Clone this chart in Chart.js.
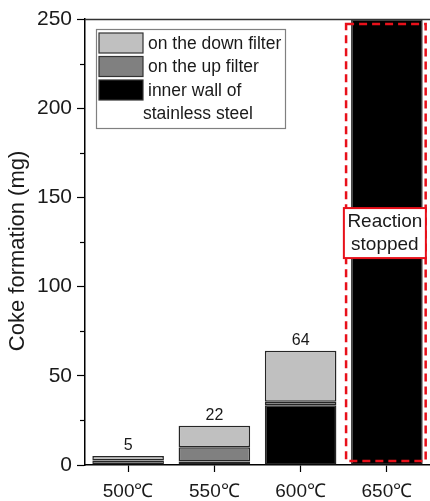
<!DOCTYPE html>
<html>
<head>
<meta charset="utf-8">
<script src="https://cdn.jsdelivr.net/npm/chart.js@4.4.1/dist/chart.umd.min.js"></script>
<style>
  html, body { margin: 0; padding: 0; background: #fff; }
  #wrap { width: 430px; height: 501px; }
</style>
</head>
<body>
<div id="wrap"><canvas id="c" width="430" height="501"></canvas></div>
<script>
// ---- data ----
const categories = ['500℃', '550℃', '600℃', '650℃'];
const innerWall = [0.3, 2, 33.5, 250];
const upFilter = [2.2, 8, 2, 0];
const downFilter = [2.5, 12, 28.5, 0];
const totalLabels = ['5', '22', '64', ''];
const seriesNames = ['on the down filter', 'on the up filter', 'inner wall of\nstainless steel'];
const yTicks = [0, 50, 100, 150, 200, 250];
const yTitle = 'Coke formation (mg)';
const boxText = ['Reaction', 'stopped'];
const stoppedIndex = 3;

const FONT = "'Liberation Sans', Arial, sans-serif";
const TXT = '#1a1a1a';

const overlay = {
  id: 'overlay',
  afterDatasetsDraw(chart) {
    const ctx = chart.ctx;
    const xs = chart.scales.x, ys = chart.scales.y;
    const ca = chart.chartArea;
    ctx.save();
    // top frame line
    ctx.strokeStyle = '#333';
    ctx.lineWidth = 1.5;
    ctx.beginPath();
    ctx.moveTo(ca.left, ca.top + 0.5);
    ctx.lineTo(chart.width, ca.top + 0.5);
    ctx.stroke();
    // minor ticks on y
    ctx.strokeStyle = '#000';
    ctx.lineWidth = 1.2;
    for (let v = 25; v < 250; v += 50) {
      const py = Math.round(ys.getPixelForValue(v)) + 0.5;
      ctx.beginPath();
      ctx.moveTo(ca.left - 5, py);
      ctx.lineTo(ca.left, py);
      ctx.stroke();
    }
    // y title
    ctx.save();
    ctx.translate(18, ys.getPixelForValue(120));
    ctx.rotate(-Math.PI / 2);
    ctx.fillStyle = TXT;
    ctx.font = '22px ' + FONT;
    ctx.textAlign = 'center';
    ctx.textBaseline = 'middle';
    ctx.fillText(yTitle, 0, 0);
    ctx.restore();
    // value labels
    ctx.fillStyle = TXT;
    ctx.font = '16px ' + FONT;
    ctx.textAlign = 'center';
    ctx.textBaseline = 'middle';
    categories.forEach((c, i) => {
      if (!totalLabels[i]) return;
      const tot = innerWall[i] + upFilter[i] + downFilter[i];
      ctx.fillText(totalLabels[i], xs.getPixelForValue(i), ys.getPixelForValue(tot) - 10);
    });
    // red dashed rectangle around stopped bar
    const meta = chart.getDatasetMeta(0);
    const bar = meta.data[stoppedIndex];
    const half = bar.width / 2;
    const cx = bar.x;
    const l = cx - half - 5, r = cx + half + 3;
    const t = ys.getPixelForValue(247.2), b = ys.getPixelForValue(2.2);
    ctx.strokeStyle = '#e8101a';
    ctx.lineWidth = 2.5;
    ctx.setLineDash([8, 5]);
    ctx.strokeRect(l, t, r - l, b - t);
    ctx.setLineDash([]);
    // reaction stopped box
    const by = ys.getPixelForValue(130);
    const bw = 82, bh = 50;
    const bx = cx - 2 - bw / 2;
    ctx.fillStyle = '#fff';
    ctx.fillRect(bx, by - bh / 2, bw, bh);
    ctx.strokeStyle = '#e8101a';
    ctx.lineWidth = 2;
    ctx.strokeRect(bx, by - bh / 2, bw, bh);
    ctx.fillStyle = TXT;
    ctx.font = '19px ' + FONT;
    ctx.fillText(boxText[0], bx + bw / 2, by - 11);
    ctx.fillText(boxText[1], bx + bw / 2, by + 12);
    // legend
    const lx = ca.left + 11, ly = ca.top + 10;
    ctx.fillStyle = '#fff';
    ctx.fillRect(lx, ly, 189, 99);
    ctx.strokeStyle = '#808080';
    ctx.lineWidth = 1.2;
    ctx.strokeRect(lx + 0.5, ly + 0.5, 189, 99);
    const order = [2, 1, 0];
    ctx.font = '17.5px ' + FONT;
    ctx.textAlign = 'left';
    let rowY = ly + 4;
    order.forEach((di, k) => {
      const ds = chart.data.datasets[di];
      ctx.fillStyle = ds.backgroundColor;
      ctx.fillRect(lx + 3, rowY, 44, 20);
      ctx.strokeStyle = '#333';
      ctx.lineWidth = 1.2;
      ctx.strokeRect(lx + 3, rowY, 44, 20);
      ctx.fillStyle = TXT;
      const lines = ds.label.split('\n');
      ctx.fillText(lines[0], lx + 52, rowY + 11);
      if (lines[1]) ctx.fillText(lines[1], lx + 47, rowY + 34);
      rowY += 23.5;
    });
    ctx.restore();
  }
};

new Chart(document.getElementById('c'), {
  type: 'bar',
  data: {
    labels: categories,
    datasets: [
      { label: seriesNames[2], data: innerWall, backgroundColor: '#000000' },
      { label: seriesNames[1], data: upFilter, backgroundColor: '#808080' },
      { label: seriesNames[0], data: downFilter, backgroundColor: '#c0c0c0' }
    ]
  },
  options: {
    responsive: false,
    animation: false,
    devicePixelRatio: 1,
    layout: { padding: { top: 19, right: 0, left: 0, bottom: 0 } },
    datasets: {
      bar: {
        borderColor: '#262626',
        borderWidth: 1.5,
        borderSkipped: false,
        barPercentage: 0.83,
        categoryPercentage: 1
      }
    },
    plugins: { legend: { display: false }, tooltip: { enabled: false } },
    scales: {
      x: {
        stacked: true,
        afterFit(s) { s.height = 36; },
        grid: { drawOnChartArea: false, offset: false, tickLength: 7, tickColor: '#000', tickWidth: 1.2 },
        border: { color: '#000', width: 1.5 },
        ticks: { color: TXT, font: { family: FONT, size: 19 }, padding: 8 }
      },
      y: {
        stacked: true,
        min: 0, max: 250,
        afterFit(s) { s.width = 85; },
        afterBuildTicks(s) { s.ticks = yTicks.map(v => ({ value: v })); },
        grid: { drawOnChartArea: false, tickLength: 8, tickColor: '#000', tickWidth: 1.2 },
        border: { color: '#000', width: 1.5 },
        ticks: { color: TXT, font: { family: FONT, size: 21 }, padding: 5 },
        title: { display: false }
      }
    }
  },
  plugins: [overlay]
});
</script>
</body>
</html>
